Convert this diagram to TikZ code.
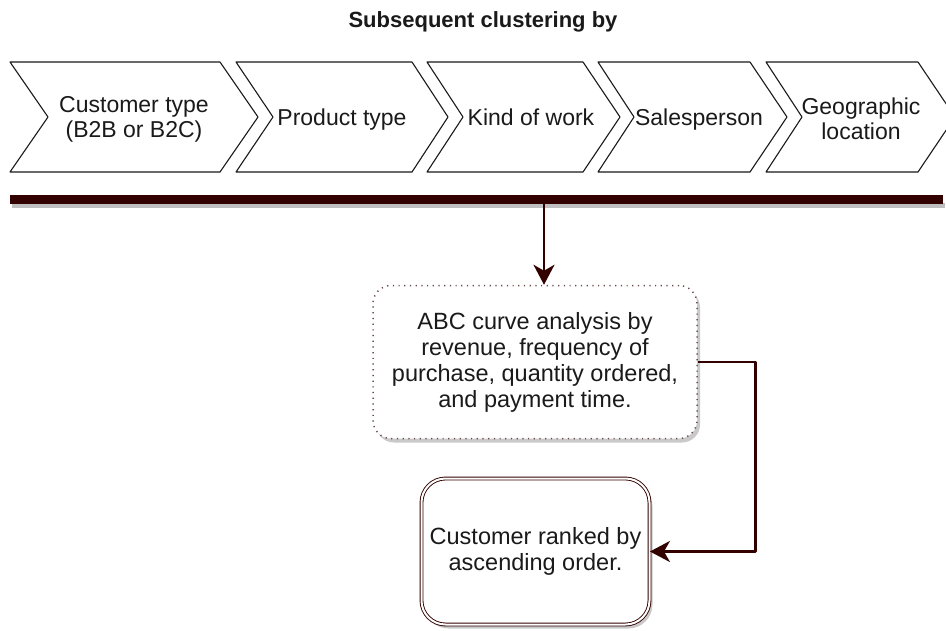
\documentclass[tikz,border=0pt]{standalone}
\usepackage{fontspec}
\setmainfont{Liberation Sans}
\usepackage{tikz}
\usetikzlibrary{arrows.meta,shadows,positioning}
\definecolor{maroon}{HTML}{330000}
\definecolor{dotline}{HTML}{6B4A4A}
\definecolor{ink}{HTML}{1A1A1A}
\tikzset{
  every picture/.style={line join=round, >=Stealth},
  chevron/.style={draw=ink, line width=1.1pt, fill=white},
  lbl/.style={font=\fontsize{23}{25}\selectfont, text=ink, align=center, inner sep=0pt},
  onerow/.style={lbl, text height=16.5pt, text depth=5pt},
  boxtext/.style={font=\fontsize{23.5}{26}\selectfont, text=ink, align=center},
  link/.style={draw=maroon, line width=2.6pt, -{Stealth[length=20pt,width=21pt,inset=6pt]}},
  shade/.style={drop shadow={shadow xshift=3pt, shadow yshift=-4pt, opacity=0.35, fill=black!60}},
}

\begin{document}
\begin{tikzpicture}[x=1pt,y=-1pt]
\clip (0,0) rectangle (946,630);
\fill[white] (0,0) rectangle (946,630);
\node[font=\bfseries\fontsize{22}{24}\selectfont, text=ink] (title) at (483,22) {Subsequent clustering by};
% clustering steps
\draw[chevron](10,62)--(220,62)--(258,117)--(220,172)--(10,172)--(48,117)--cycle;
\draw[chevron](236,62)--(412,62)--(448,117)--(412,172)--(236,172)--(273,117)--cycle;
\draw[chevron](427,62)--(583,62)--(620,117)--(583,172)--(427,172)--(463,117)--cycle;
\draw[chevron](598,62)--(750,62)--(787,117)--(750,172)--(598,172)--(634,117)--cycle;
\draw[chevron](766,62)--(918,62)--(955,117)--(918,172)--(766,172)--(802,117)--cycle;
\node[lbl] (ctype) at (134,119) {Customer type\\(B2B or B2C)};
\node[onerow] (ptype) at (342,120) {Product type};
\node[onerow] (work) at (531,120) {Kind of work};
\node[onerow] (sales) at (699,120) {Salesperson};
\node[lbl] (geo) at (861,119) {Geographic\\location};
% bar
\fill[black!25] (12,203) rectangle (945,208);
\fill[maroon] (10,195) rectangle (943,204);
\coordinate (drop) at (544,204);
% boxes
\node[boxtext, shade, draw=dotline, line width=1.5pt, dash pattern=on 1.2pt off 4.5pt, fill=white,
  rounded corners=18pt, minimum width=324pt, minimum height=153pt] (abc) at (535,362)
  {ABC curve analysis by\\revenue, frequency of\\purchase, quantity ordered,\\and payment time.};
\node[boxtext, shade, draw=maroon, line width=0.9pt, double=white, double distance=2pt, fill=white,
  rounded corners=24pt, minimum width=228pt, minimum height=146pt] (rank) at (535.5,551.5)
  {Customer ranked by\\ascending order.};
% connectors
\draw[link] (drop) -- (drop |- abc.north);
\draw[link] (abc.east) -- ++(58,0) |- (rank.east);
\end{tikzpicture}
\end{document}
